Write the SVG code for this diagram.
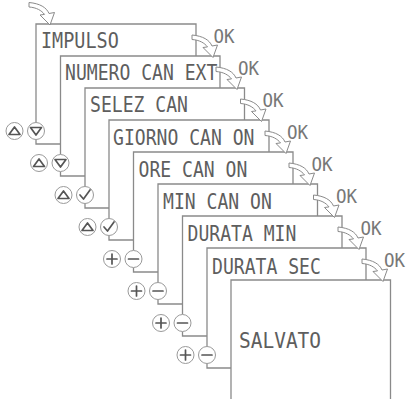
<svg xmlns="http://www.w3.org/2000/svg" xmlns:xlink="http://www.w3.org/1999/xlink" width="406" height="399" viewBox="0 0 406 399">
<style>
.fr{fill:none;stroke:#8a8a8a;stroke-width:1.3}
.cn{fill:none;stroke:#8a8a8a;stroke-width:1.3}
.lcd{font-family:"DejaVu Sans Mono","Liberation Mono",monospace;font-size:22px;fill:#5e5e5e}
.ok{font-family:"DejaVu Sans Mono","Liberation Mono",monospace;font-size:20px;fill:#777}
.btn{fill:#fff;stroke:#9a9a9a;stroke-width:1}
.gl{fill:none;stroke:#555;stroke-width:1.7;stroke-linejoin:round;stroke-linecap:round}
.arw{fill:#fff;stroke:#8a8a8a;stroke-width:1}
</style>
<defs>
<path id="arr" class="arw" d="M0 0 L4.5 -12.5 L-1 -11.5 C-3.5 -17.5 -10 -21.5 -21 -22.5 L-21 -18 C-13.5 -17.5 -8.5 -14.5 -5.5 -10.6 L-10 -10 Z"/>
<g id="up"><circle class="btn" r="8.5"/><path class="gl" d="M-5.5 3.5 L0 -4 L5.5 3.5 Z"/></g>
<g id="dn"><circle class="btn" r="8.5"/><path class="gl" d="M-5.5 -3.5 L5.5 -3.5 L0 4 Z"/></g>
<g id="ck"><circle class="btn" r="8.5"/><path class="gl" d="M-5 0 L-1.5 4 L5 -5"/></g>
<g id="pl"><circle class="btn" r="8.5"/><path class="gl" d="M-5 0 H5 M0 -5 V5"/></g>
<g id="mi"><circle class="btn" r="8.5"/><path class="gl" d="M-5 0 H5"/></g>
</defs>

<g id="connectors">
<path class="cn" d="M36 139.5 V144 H60.5"/>
<path class="cn" d="M60.5 171.5 V176 H85"/>
<path class="cn" d="M85 203.5 V208 H109"/>
<path class="cn" d="M109 235.5 V240 H133.5"/>
<path class="cn" d="M133.5 267.5 V272 H158"/>
<path class="cn" d="M158 299.5 V304 H182.5"/>
<path class="cn" d="M182.5 331.5 V336 H207"/>
<path class="cn" d="M207 363.5 V368 H231"/>
</g>

<g id="frame-impulso"><path class="fr" d="M36 122.5 V24 H196 V56"/><text class="lcd" transform="translate(41 47.5) scale(0.84 1)">IMPULSO</text></g>
<g id="frame-numero"><path class="fr" d="M60.5 154.5 V56 H220 V88"/><text class="lcd" transform="translate(65 79.5) scale(0.822 1)">NUMERO CAN EXT</text></g>
<g id="frame-selez"><path class="fr" d="M85 186.5 V88 H244.5 V120"/><text class="lcd" transform="translate(90 112) scale(0.822 1)">SELEZ CAN</text></g>
<g id="frame-giorno"><path class="fr" d="M109 218.5 V120 H269 V152"/><text class="lcd" transform="translate(113 144.5) scale(0.822 1)">GIORNO CAN ON</text></g>
<g id="frame-ore"><path class="fr" d="M133.5 250.5 V152 H293 V184"/><text class="lcd" transform="translate(138.5 176.5) scale(0.822 1)">ORE CAN ON</text></g>
<g id="frame-min"><path class="fr" d="M158 282.5 V184 H317.5 V216"/><text class="lcd" transform="translate(163 209) scale(0.822 1)">MIN CAN ON</text></g>
<g id="frame-durmin"><path class="fr" d="M182.5 314.5 V216 H342 V248"/><text class="lcd" transform="translate(187.5 241) scale(0.822 1)">DURATA MIN</text></g>
<g id="frame-dursec"><path class="fr" d="M207 346.5 V248 H366 V280"/><text class="lcd" transform="translate(212 273.5) scale(0.822 1)">DURATA SEC</text></g>
<g id="frame-salvato"><path class="fr" d="M231 402 V280 H390.5 V402"/><text class="lcd" transform="translate(239 348) scale(0.886 1)">SALVATO</text></g>

<g id="arrows">
<use xlink:href="#arr" href="#arr" x="50" y="25"/>
<use xlink:href="#arr" href="#arr" x="213" y="57.5"/>
<use xlink:href="#arr" href="#arr" x="237" y="89.5"/>
<use xlink:href="#arr" href="#arr" x="261.5" y="121.5"/>
<use xlink:href="#arr" href="#arr" x="286" y="153.5"/>
<use xlink:href="#arr" href="#arr" x="310" y="185.5"/>
<use xlink:href="#arr" href="#arr" x="334.5" y="217.5"/>
<use xlink:href="#arr" href="#arr" x="359" y="249.5"/>
<use xlink:href="#arr" href="#arr" x="383" y="281.5"/>
</g>

<g id="ok-labels">
<text class="ok" transform="translate(213.5 43) scale(0.875 1)">OK</text>
<text class="ok" transform="translate(238 75) scale(0.875 1)">OK</text>
<text class="ok" transform="translate(262.5 107) scale(0.875 1)">OK</text>
<text class="ok" transform="translate(287 139) scale(0.875 1)">OK</text>
<text class="ok" transform="translate(311.5 171) scale(0.875 1)">OK</text>
<text class="ok" transform="translate(336 203) scale(0.875 1)">OK</text>
<text class="ok" transform="translate(360.5 235) scale(0.875 1)">OK</text>
<text class="ok" transform="translate(384 267) scale(0.875 1)">OK</text>
</g>

<g id="buttons-0"><use xlink:href="#up" href="#up" x="14.5" y="131"/><use xlink:href="#dn" href="#dn" x="36" y="131"/></g>
<g id="buttons-1"><use xlink:href="#up" href="#up" x="39" y="163"/><use xlink:href="#dn" href="#dn" x="60.5" y="163"/></g>
<g id="buttons-2"><use xlink:href="#up" href="#up" x="63.5" y="195"/><use xlink:href="#ck" href="#ck" x="85" y="195"/></g>
<g id="buttons-3"><use xlink:href="#up" href="#up" x="87.5" y="227"/><use xlink:href="#ck" href="#ck" x="109" y="227"/></g>
<g id="buttons-4"><use xlink:href="#pl" href="#pl" x="112" y="259"/><use xlink:href="#mi" href="#mi" x="133.5" y="259"/></g>
<g id="buttons-5"><use xlink:href="#pl" href="#pl" x="136.5" y="291"/><use xlink:href="#mi" href="#mi" x="158" y="291"/></g>
<g id="buttons-6"><use xlink:href="#pl" href="#pl" x="161" y="323"/><use xlink:href="#mi" href="#mi" x="182.5" y="323"/></g>
<g id="buttons-7"><use xlink:href="#pl" href="#pl" x="185.5" y="355"/><use xlink:href="#mi" href="#mi" x="207" y="355"/></g>
</svg>
